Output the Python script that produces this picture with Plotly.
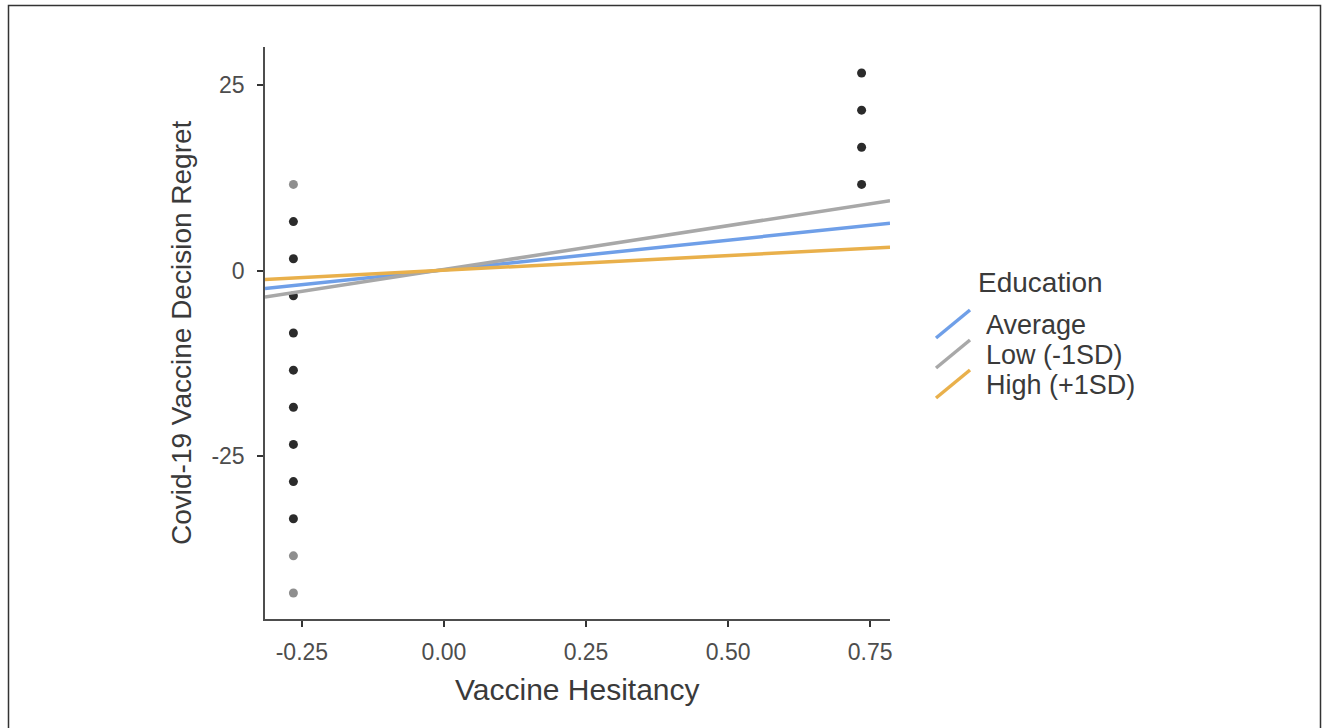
import plotly.graph_objects as go

# ---------------- data ----------------
hesitancy_levels = [-0.265, 0.735]
regret_low_hesitancy = [11.6, 6.6, 1.6, -3.4, -8.4, -13.4, -18.4, -23.4, -28.4, -33.4, -38.4, -43.4]
regret_high_hesitancy = [26.6, 21.6, 16.6, 11.6]
# how many observations overlap at each point (drives darkness)
overlap_low = [1, 3, 3, 3, 3, 3, 3, 3, 3, 3, 1, 1]
overlap_high = [3, 3, 3, 3]

education_groups = ["Average", "Low (-1SD)", "High (+1SD)"]
line_intercepts = [0.10, 0.15, 0.05]
line_slopes = [8.0, 11.8, 3.95]

x_ticks = [-0.25, 0.0, 0.25, 0.50, 0.75]
x_tick_labels = ["-0.25", "0.00", "0.25", "0.50", "0.75"]
y_ticks = [25, 0, -25]
y_tick_labels = ["25", "0", "-25"]

# ---------------- styles ----------------
line_colors = ["#6f9fe8", "#a8a8a8", "#e9b04b"]
FONT = "Liberation Sans, Arial, Helvetica, sans-serif"
TXT = "#3a3a3a"
TICK = "#4d4d4d"

x_lo, x_hi = min(hesitancy_levels), max(hesitancy_levels)
all_y = regret_low_hesitancy + regret_high_hesitancy
y_lo, y_hi = min(all_y), max(all_y)
xr = [x_lo - 0.05 * (x_hi - x_lo), x_hi + 0.05 * (x_hi - x_lo)]
yr = [y_lo - 0.05 * (y_hi - y_lo), y_hi + 0.05 * (y_hi - y_lo)]


def pt_color(n):
    return "#2b2b2b" if n > 1 else "#8e8e8e"


fig = go.Figure()

fig.add_trace(go.Scatter(
    x=[hesitancy_levels[0]] * len(regret_low_hesitancy),
    y=regret_low_hesitancy,
    mode="markers",
    marker=dict(size=9, color=[pt_color(n) for n in overlap_low]),
    showlegend=False, hoverinfo="x+y",
))
fig.add_trace(go.Scatter(
    x=[hesitancy_levels[1]] * len(regret_high_hesitancy),
    y=regret_high_hesitancy,
    mode="markers",
    marker=dict(size=9, color=[pt_color(n) for n in overlap_high]),
    showlegend=False, hoverinfo="x+y",
))

for name, b0, b1, col in zip(education_groups, line_intercepts, line_slopes, line_colors):
    xs = [xr[0], xr[1]]
    ys = [b0 + b1 * v for v in xs]
    fig.add_trace(go.Scatter(
        x=xs, y=ys, mode="lines", name=name,
        line=dict(color=col, width=3.5), showlegend=False,
    ))

# ---------------- layout geometry (page pixels) ----------------
W, H = 1325, 728
PL, PR, PT, PB = 265, 890, 47, 619          # plot area in page pixels
L, T, R, B = PL, PT, W - PR, H - PB
pw, ph = PR - PL, PB - PT


def px_x(p):
    return (p - PL) / pw


def px_y(p):
    return (PB - p) / ph


shapes = []
# outer border (open at bottom)
shapes.append(dict(type="rect", xref="paper", yref="paper",
                   x0=px_x(8.5), x1=px_x(1320.5), y0=px_y(745), y1=px_y(5.5),
                   line=dict(color="#333333", width=1.5), fillcolor="rgba(0,0,0,0)"))

annotations = []
annotations.append(dict(text="Education", xref="paper", yref="paper",
                        x=px_x(976), y=px_y(282), xanchor="left", yanchor="middle",
                        showarrow=False, font=dict(family=FONT, size=28, color=TXT)))
key_y = [325, 355, 385]
for name, col, ky in zip(education_groups, line_colors, key_y):
    shapes.append(dict(type="line", xref="paper", yref="paper",
                       x0=px_x(936), x1=px_x(970), y0=px_y(ky + 13), y1=px_y(ky - 15),
                       line=dict(color=col, width=3.5)))
    annotations.append(dict(text=name, xref="paper", yref="paper",
                            x=px_x(984), y=px_y(ky), xanchor="left", yanchor="middle",
                            showarrow=False, font=dict(family=FONT, size=27, color=TXT)))

# axis titles
annotations.append(dict(text="Vaccine Hesitancy", xref="paper", yref="paper",
                        x=px_x(577), y=px_y(689), xanchor="center", yanchor="middle",
                        showarrow=False, font=dict(family=FONT, size=30, color=TXT)))
annotations.append(dict(text="Covid-19 Vaccine Decision Regret", xref="paper", yref="paper",
                        x=px_x(181), y=px_y(333), xanchor="center", yanchor="middle",
                        textangle=-90,
                        showarrow=False, font=dict(family=FONT, size=28, color=TXT)))

fig.update_layout(
    width=W, height=H,
    margin=dict(l=L, r=R, t=T, b=B, pad=0),
    paper_bgcolor="white", plot_bgcolor="white",
    showlegend=False,
    shapes=shapes, annotations=annotations,
    font=dict(family=FONT, color=TXT),
    xaxis=dict(
        range=xr, tickvals=x_ticks, ticktext=x_tick_labels,
        showgrid=False, zeroline=False, showline=True, linecolor="#4d4d4d", linewidth=1.5,
        ticks="outside", ticklen=6, tickwidth=1.5, tickcolor="#333333",
        tickfont=dict(family=FONT, size=23, color=TICK), ticklabelstandoff=6,
    ),
    yaxis=dict(
        range=yr, tickvals=y_ticks, ticktext=y_tick_labels,
        showgrid=False, zeroline=False, showline=True, linecolor="#4d4d4d", linewidth=1.5,
        ticks="outside", ticklen=6, tickwidth=1.5, tickcolor="#333333",
        tickfont=dict(family=FONT, size=23, color=TICK), ticklabelstandoff=8,
    ),
)

fig.write_html(
    "out.html",
    config={"displayModeBar": False},
    post_script="document.body.style.margin='0px';document.body.style.overflow='hidden';",
)
